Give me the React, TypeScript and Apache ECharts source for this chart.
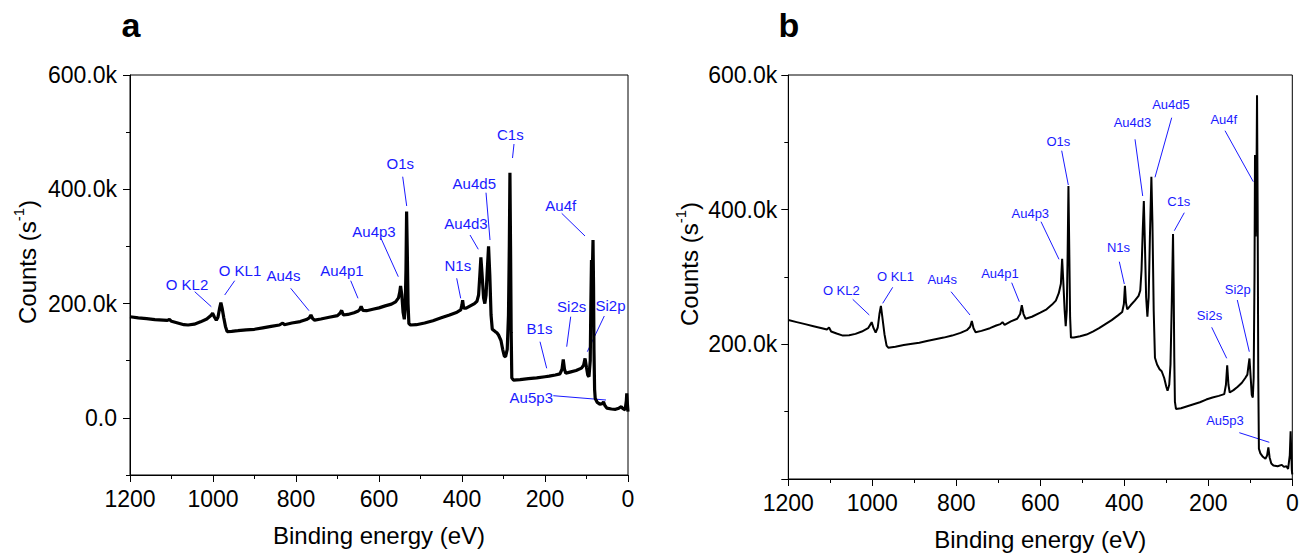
import React, { useEffect, useRef } from "react";
import * as echarts from "echarts";

// Binding energy (eV) / counts (s^-1), panel a
const spectrumA: [number, number][] = [
  [1200, 177000], [1180, 175000], [1160, 173500], [1140, 172000], [1120, 171000],
  [1110, 170500], [1105, 172500], [1100, 169000], [1085, 166000], [1070, 163000],
  [1060, 162500], [1045, 164000], [1030, 168000], [1015, 173000], [1005, 179000],
  [1001, 183000], [997, 177000], [992, 171000], [988, 176000], [984, 192000],
  [981, 201500], [978, 192000], [974, 175000], [970, 160000], [966, 151000],
  [955, 151500], [940, 152500], [920, 154000], [900, 155000], [880, 157500],
  [860, 160000], [840, 162500], [832, 166000], [828, 163000], [810, 166000],
  [790, 168500], [775, 172000], [768, 175000], [764, 180000], [760, 174000],
  [755, 171000], [740, 173000], [720, 176000], [700, 179000], [694, 183000],
  [690, 188000], [686, 180000], [675, 181000], [660, 184000], [650, 187000],
  [646, 190000], [643, 195000], [639, 188000], [630, 187500], [615, 190000],
  [600, 192500], [585, 196000], [570, 199000], [560, 203000], [553, 210000],
  [550, 220000], [548, 231000], [545, 215000], [542, 185000], [539, 172500],
  [537, 190000], [535, 260000], [533.5, 361000], [532, 300000], [530, 200000],
  [528, 165000], [524, 162500], [510, 163000], [490, 166000], [470, 170000],
  [450, 175000], [430, 180000], [412, 185000], [403, 189000], [400, 198000],
  [398.5, 206000], [396, 192000], [390, 192000], [380, 196000], [370, 200000],
  [364, 204000], [360, 215000], [357, 250000], [354.5, 281000], [352, 255000],
  [348, 210000], [345, 200000], [342, 215000], [339, 260000], [336, 300000],
  [333, 250000], [330, 180000], [327, 155000], [320, 151000], [316, 149000],
  [312, 145000], [306, 135000], [302, 120000], [298, 108000], [295, 107000],
  [291, 120000], [288, 180000], [286, 300000], [284.5, 429000], [283, 300000],
  [281.5, 150000], [280, 70000], [276, 66000], [260, 67000], [240, 68500],
  [220, 70000], [200, 72000], [190, 73000], [175, 75000], [164, 77000],
  [159, 85000], [156, 102000], [153, 85000], [150, 78000], [140, 80000],
  [125, 83000], [112, 87000], [107, 92000], [103.5, 104000], [100, 88000],
  [97, 75000], [94, 72000], [91, 100000], [89.5, 200000], [88, 276000],
  [86.5, 230000], [85.5, 270000], [84.3, 311000], [83, 230000], [82, 120000],
  [80.5, 50000], [79, 34000], [74, 27000], [68, 24000], [62, 25000],
  [59, 28000], [56, 22000], [51, 17000], [40, 15500], [30, 15000],
  [22, 17000], [16, 19500], [12, 16000], [7, 14000], [4, 30000],
  [3, 43000], [1.5, 25000], [0, 11000],
];

// panel b
const spectrumB: [number, number][] = [
  [1200, 236000], [1180, 233000], [1160, 230000], [1140, 227000], [1120, 224000],
  [1108, 222000], [1103, 225000], [1098, 219000], [1085, 216000], [1070, 213000],
  [1055, 213500], [1040, 215500], [1025, 219000], [1010, 224000], [1004, 230000],
  [1001.5, 233000], [997, 224000], [992, 217500], [987, 225000], [983, 245000],
  [979.5, 257000], [976, 240000], [971, 215000], [966, 198000], [962, 195000],
  [945, 196500], [925, 199000], [905, 201000], [888, 202500], [870, 205000],
  [850, 207500], [830, 210000], [810, 213000], [790, 217000], [775, 221000],
  [767, 226000], [763, 234500], [759, 224000], [754, 218000], [740, 220000],
  [720, 224000], [705, 228000], [695, 230000], [690, 233000], [685, 229000],
  [670, 234000], [655, 238000], [648, 245000], [644, 258000], [640, 245000],
  [635, 238000], [620, 241000], [600, 247000], [585, 252000], [572, 259000],
  [563, 265000], [556, 276000], [551, 290000], [548, 327000], [545, 290000],
  [542, 250000], [539.5, 227000], [537, 250000], [535, 330000], [533, 435000],
  [531, 340000], [529, 240000], [527, 210000], [520, 210000], [505, 212000],
  [490, 214500], [475, 219000], [460, 224000], [445, 230000], [430, 236000],
  [415, 243000], [405, 248000], [401, 260000], [398.5, 287000], [396, 262000],
  [393, 252000], [385, 258000], [375, 265000], [366, 272000], [362, 280000],
  [359, 310000], [356, 370000], [353.5, 413000], [351, 350000], [348, 270000],
  [345, 241000], [342, 270000], [339, 360000], [335.5, 449000], [333, 380000],
  [330, 250000], [327, 180000], [322, 170000], [316, 163000], [311, 160000],
  [305, 150000], [300, 137000], [297, 131000], [293, 140000], [290, 170000],
  [287, 260000], [284, 364000], [282.5, 290000], [281, 180000], [279.5, 115000],
  [277, 104000], [265, 105000], [250, 108000], [235, 111000], [220, 114000],
  [205, 118000], [190, 121000], [175, 123500], [162, 126000], [158, 140000],
  [155, 169000], [152, 140000], [149, 128500], [140, 132000], [130, 137000],
  [120, 143000], [112, 150000], [107, 155000], [104, 170000], [102, 179000],
  [99, 150000], [96.5, 125000], [94, 121000], [92, 150000], [90, 300000],
  [88.8, 481000], [87.3, 360000], [85.5, 420000], [84, 570000], [82.5, 400000],
  [81, 150000], [79.5, 45000], [76, 38000], [70, 33000], [64, 30000],
  [60, 35000], [57, 47000], [54, 32000], [50, 23000], [45, 20000],
  [35, 19000], [25, 21000], [20, 18000], [14, 19000], [10, 15000],
  [6, 35000], [4, 71000], [2.5, 40000], [1, 12000], [0, 7000],
];

const xTicks = [0, 200, 400, 600, 800, 1000, 1200];
const yMajorA = [0, 200000, 400000, 600000];
const yMinorA = [-100000, 100000, 300000, 500000];

// Peak labels: text, label centre, leader line (pixels)
const labelsA: [string, number, number, number, number, number, number][] = [
  ["O KL2", 187, 284, 194.7, 291.7, 211.3, 306.7],
  ["O KL1", 240, 270, 234.7, 280.7, 224.7, 295],
  ["Au4s", 283.5, 275, 290.7, 288.3, 309, 310.7],
  ["Au4p1", 342, 270, 350.7, 280.7, 358, 298.3],
  ["Au4p3", 374, 231.7, 381, 238.3, 398.3, 276.7],
  ["O1s", 400.3, 163.3, 402.7, 176.7, 406.7, 206],
  ["Au4d5", 474.3, 183.3, 486, 192.7, 490, 240],
  ["Au4d3", 466, 223.3, 470, 235, 478.3, 249.3],
  ["N1s", 457.8, 265, 456.7, 278.3, 460.7, 298.3],
  ["C1s", 510.3, 134, 514, 144, 512.5, 158],
  ["Au4f", 560.7, 205, 561.7, 213.3, 585, 236],
  ["B1s", 539.5, 328.3, 540, 341.7, 546.7, 368.3],
  ["Si2s", 571.7, 306, 570.7, 316.7, 566.7, 346.7],
  ["Si2p", 610.5, 305, 604.3, 316, 587.3, 351.7],
  ["Au5p3", 531.3, 397.3, 553.3, 395.7, 606, 400],
];
const labelsB: [string, number, number, number, number, number, number][] = [
  ["O KL2", 841.3, 290.7, 852.7, 299.3, 869.3, 315],
  ["O KL1", 895.5, 276.7, 892.7, 287.3, 882.7, 303.3],
  ["Au4s", 942.2, 279, 951, 291.7, 970, 315],
  ["Au4p1", 1000, 273.3, 1011.7, 282.7, 1019.3, 301.7],
  ["Au4p3", 1030.3, 213.3, 1041, 221.7, 1059, 259.3],
  ["O1s", 1058.3, 141, 1061.7, 150.7, 1068.3, 185],
  ["Au4d3", 1132.5, 122.7, 1135, 139.3, 1142.7, 196],
  ["Au4d5", 1171, 104.3, 1171.7, 117.7, 1155, 177.3],
  ["Au4f", 1223.8, 119.3, 1225, 130.7, 1253.3, 181.7],
  ["C1s", 1178.8, 201.7, 1184.3, 212.7, 1174.3, 230.7],
  ["N1s", 1118.5, 247.7, 1119.3, 261.7, 1124.3, 284],
  ["Si2p", 1237.8, 289.3, 1237.3, 300, 1249.3, 351.7],
  ["Si2s", 1209.5, 315, 1211.7, 327.3, 1226.7, 358.3],
  ["Au5p3", 1225, 420.7, 1239.3, 432.7, 1269.3, 442.3],
];

const FONT = "'Liberation Sans', Arial, Helvetica, sans-serif";
const BLUE = "#1a1aff";

const fmtK = (v: number) => (v === 0 ? "0.0" : (v / 1000).toFixed(1) + "k");

function buildLabels(list: typeof labelsA, size: number) {
  const out: any[] = [];
  list.forEach(([t, cx, cy, x1, y1, x2, y2]) => {
    out.push({
      type: "line",
      shape: { x1, y1, x2, y2 },
      style: { stroke: BLUE, lineWidth: 1 },
      silent: true,
    });
    out.push({
      type: "text",
      x: cx,
      y: cy,
      style: {
        text: t,
        fill: BLUE,
        fontSize: size,
        fontFamily: FONT,
        align: "center",
        verticalAlign: "middle",
      },
      silent: true,
    });
  });
  return out;
}

function yTitle(x: number, y: number) {
  return {
    type: "text",
    x,
    y,
    rotation: Math.PI / 2,
    style: {
      text: "{n|Counts (s}{s|-1}{n|)}",
      align: "center",
      verticalAlign: "middle",
      fill: "#000",
      rich: {
        n: { fontSize: 24, fontFamily: FONT, fill: "#000", lineHeight: 28, verticalAlign: "bottom" },
        s: { fontSize: 15, fontFamily: FONT, fill: "#000", lineHeight: 28, verticalAlign: "top" },
      },
    },
  };
}

export default function App() {
  const ref = useRef<HTMLDivElement>(null);
  useEffect(() => {
    if (!ref.current) return;
    const chart = echarts.init(ref.current, undefined, { renderer: "svg" });
    const axisTxt = { color: "#000", fontSize: 23, fontFamily: FONT };
    const xAxisBase = (gridIndex: number) => ({
      type: "value",
      gridIndex,
      inverse: true,
      min: 0,
      max: 1200,
      interval: 200,
      name: "Binding energy (eV)",
      nameLocation: "middle",
      nameGap: 48,
      nameTextStyle: { color: "#000", fontSize: 24, fontFamily: FONT },
      axisLine: { show: true, onZero: false, lineStyle: { color: "#000", width: 1 } },
      axisTick: { show: true, length: 7, lineStyle: { color: "#000", width: 1 } },
      minorTick: { show: true, splitNumber: 2, length: 4, lineStyle: { color: "#000", width: 1 } },
      axisLabel: { ...axisTxt, margin: 12, customValues: xTicks, formatter: (v: number) => String(v) },
      splitLine: { show: false },
      minorSplitLine: { show: false },
    });
    chart.setOption({
      animation: false,
      backgroundColor: "#fff",
      grid: [
        { left: 130, top: 75, width: 498, height: 400, show: true, borderColor: "#000", borderWidth: 1, backgroundColor: "transparent" },
        { left: 788.3, top: 75, width: 504, height: 405, show: true, borderColor: "#000", borderWidth: 1, backgroundColor: "transparent" },
      ],
      xAxis: [xAxisBase(0), xAxisBase(1)],
      yAxis: [
        {
          type: "value",
          gridIndex: 0,
          position: "left",
          min: -100000,
          max: 600000,
          axisLine: { show: true, onZero: false, lineStyle: { color: "#000", width: 1 } },
          axisTick: { show: true, length: 7, customValues: yMajorA, lineStyle: { color: "#000", width: 1 } },
          axisLabel: { ...axisTxt, margin: 13, customValues: yMajorA, formatter: fmtK },
          splitLine: { show: false },
        },
        {
          type: "value",
          gridIndex: 0,
          position: "left",
          offset: 0,
          min: -100000,
          max: 600000,
          axisLine: { show: false, onZero: false },
          axisTick: { show: true, length: 4, customValues: yMinorA, lineStyle: { color: "#000", width: 1 } },
          axisLabel: { show: false },
          splitLine: { show: false },
        },
        {
          type: "value",
          gridIndex: 1,
          position: "left",
          min: 0,
          max: 600000,
          interval: 200000,
          axisLine: { show: true, onZero: false, lineStyle: { color: "#000", width: 1 } },
          axisTick: { show: true, length: 7, lineStyle: { color: "#000", width: 1 } },
          minorTick: { show: true, splitNumber: 2, length: 4, lineStyle: { color: "#000", width: 1 } },
          axisLabel: { ...axisTxt, margin: 11, formatter: (v: number) => (v === 0 ? "" : fmtK(v)) },
          splitLine: { show: false },
          minorSplitLine: { show: false },
        },
      ],
      series: [
        {
          type: "line",
          xAxisIndex: 0,
          yAxisIndex: 0,
          data: spectrumA,
          showSymbol: false,
          lineStyle: { color: "#000", width: 3.2 },
          itemStyle: { color: "#000" },
          z: 3,
        },
        {
          type: "line",
          xAxisIndex: 1,
          yAxisIndex: 2,
          data: spectrumB,
          showSymbol: false,
          lineStyle: { color: "#000", width: 2 },
          itemStyle: { color: "#000" },
          z: 3,
        },
      ],
      graphic: [
        {
          type: "text",
          x: 131,
          y: 25,
          style: { text: "a", fontSize: 34, fontWeight: "bold", fontFamily: FONT, fill: "#000", align: "center", verticalAlign: "middle" },
        },
        {
          type: "text",
          x: 789,
          y: 25,
          style: { text: "b", fontSize: 34, fontWeight: "bold", fontFamily: FONT, fill: "#000", align: "center", verticalAlign: "middle" },
        },
        yTitle(25, 262),
        yTitle(687, 264),
        ...buildLabels(labelsA, 15),
        ...buildLabels(labelsB, 13),
      ],
    });
    return () => chart.dispose();
  }, []);
  return (
    <div
      ref={ref}
      style={{ position: "fixed", left: 0, top: 0, width: 1303, height: 556 }}
    />
  );
}
